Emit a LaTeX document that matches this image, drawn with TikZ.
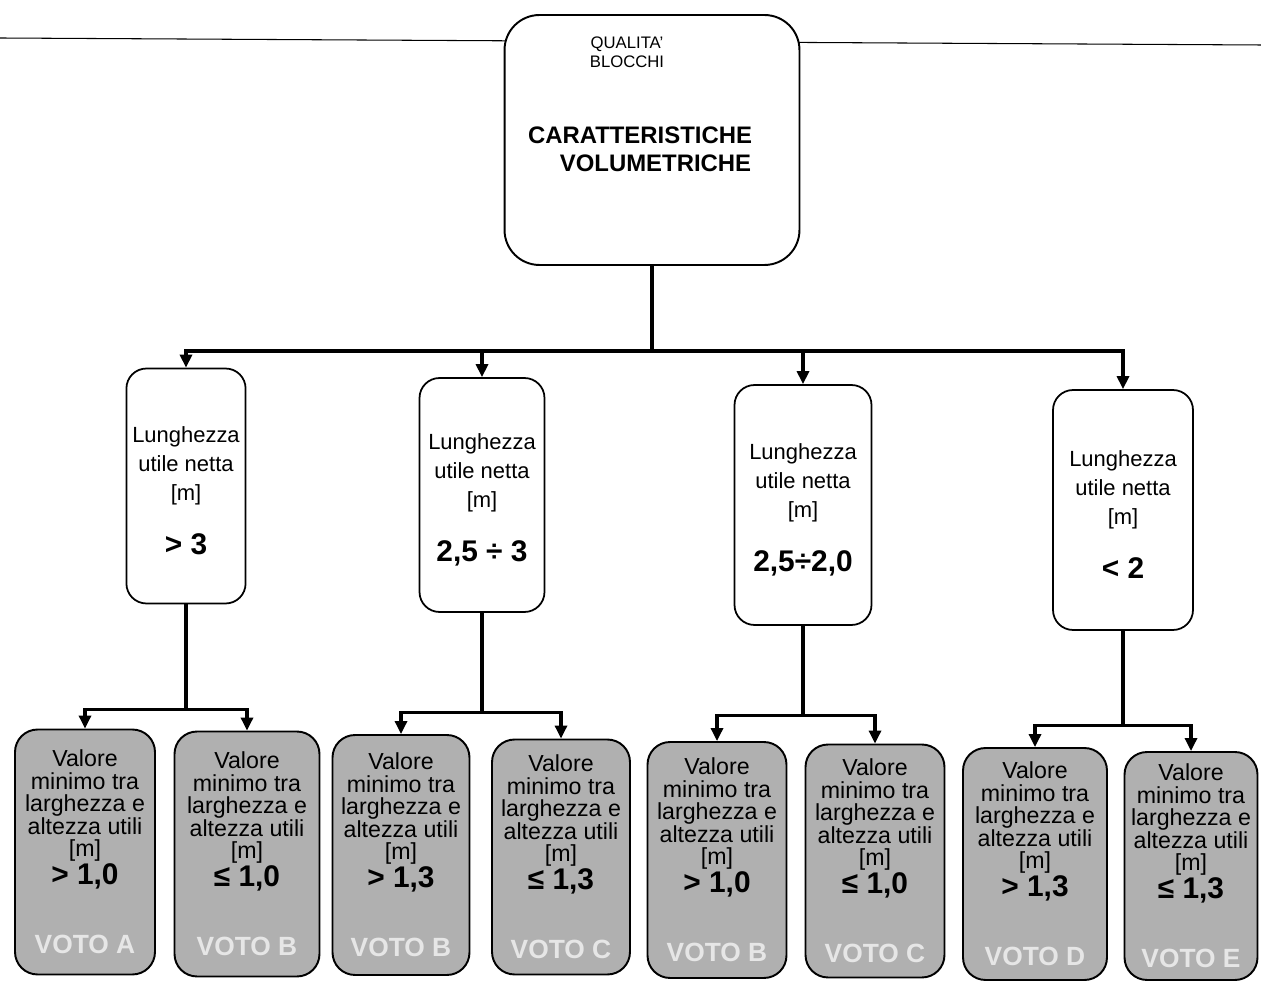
\documentclass[tikz,border=0pt]{standalone}
\usepackage{fontspec}
\setmainfont{Liberation Sans}
\usepackage{tikz}
\usetikzlibrary{arrows.meta,positioning,calc}
\definecolor{stipple}{HTML}{B0B0B0}
\definecolor{votofaint}{HTML}{E6E6E6}

\begin{document}
\begin{tikzpicture}[x=0.02cm, y=-0.02cm,
  topbox/.style={draw, line width=1.1pt, rounded corners=0.7cm, fill=white, minimum width=5.9cm, minimum height=5cm},
  lenbox/.style={draw, line width=1pt, rounded corners=0.4cm, fill=white, align=center, font=\fontsize{12.5}{16.5}\selectfont, minimum height=4.7cm},
  valbox/.style={draw, line width=1.1pt, rounded corners=0.45cm, fill=stipple, align=center, font=\fontsize{13.2}{12.8}\selectfont, minimum height=4.9cm},
  arr/.style={line width=1.8pt, -{Triangle[length=2.6mm, width=2.4mm]}},
]
  \useasboundingbox (0,0) rectangle (1261,982);

  % page rule behind the title box
  \draw[line width=0.6pt] (0,38) -- (1261,45);

  % title
  \node[topbox] (top) at (652,140) {};
  \node[font=\fontsize{9.5}{11}\selectfont, align=center] (toptag) at (627,52) {QUALITA'\\BLOCCHI};
  \node[font=\fontsize{13.6}{16}\selectfont\bfseries, align=center] (toptitle) at (640,149) {CARATTERISTICHE\\\hspace*{1.3em}VOLUMETRICHE};

  % length classes
  \node[lenbox, minimum width=2.26cm] (len1) at (186,486) {\rule{0pt}{5mm}Lunghezza\\utile netta\\{[m]}\\[5mm]{\fontsize{17}{20}\selectfont\bfseries > 3}};
  \node[lenbox, minimum width=2.5cm, minimum height=4.68cm] (len2) at (482,495) {\rule{0pt}{5mm}Lunghezza\\utile netta\\{[m]}\\[5mm]{\fontsize{17}{20}\selectfont\bfseries 2,5 ÷ 3}};
  \node[lenbox, minimum width=2.74cm, minimum height=4.8cm] (len3) at (803,505) {\rule{0pt}{5mm}Lunghezza\\utile netta\\{[m]}\\[5mm]{\fontsize{17}{20}\selectfont\bfseries 2,5÷2,0}};
  \node[lenbox, minimum width=2.8cm, minimum height=4.8cm] (len4) at (1123,510) {\rule{0pt}{5mm}Lunghezza\\utile netta\\{[m]}\\[5mm]{\fontsize{17}{20}\selectfont\bfseries < 2}};

  % section classes and grades
  \node[valbox, minimum width=2.8cm] (sec1) at (85,852) {Valore\\minimo tra\\larghezza e\\altezza utili\\{[m]}\\{\fontsize{17}{20}\selectfont\bfseries > 1,0}\\[9mm]{\color{votofaint}\fontsize{15}{18}\selectfont\bfseries VOTO A}};
  \node[valbox, minimum width=2.9cm] (sec2) at (247,854) {Valore\\minimo tra\\larghezza e\\altezza utili\\{[m]}\\{\fontsize{17}{20}\selectfont\bfseries ≤ 1,0}\\[9mm]{\color{votofaint}\fontsize{15}{18}\selectfont\bfseries VOTO B}};
  \node[valbox, minimum width=2.74cm, minimum height=4.8cm] (sec3) at (401,855) {Valore\\minimo tra\\larghezza e\\altezza utili\\{[m]}\\{\fontsize{17}{20}\selectfont\bfseries > 1,3}\\[9mm]{\color{votofaint}\fontsize{15}{18}\selectfont\bfseries VOTO B}};
  \node[valbox, minimum width=2.76cm, minimum height=4.7cm] (sec4) at (561,857) {Valore\\minimo tra\\larghezza e\\altezza utili\\{[m]}\\{\fontsize{17}{20}\selectfont\bfseries ≤ 1,3}\\[9mm]{\color{votofaint}\fontsize{15}{18}\selectfont\bfseries VOTO C}};
  \node[valbox, minimum width=2.78cm, minimum height=4.72cm] (sec5) at (717,860) {Valore\\minimo tra\\larghezza e\\altezza utili\\{[m]}\\{\fontsize{17}{20}\selectfont\bfseries > 1,0}\\[9mm]{\color{votofaint}\fontsize{15}{18}\selectfont\bfseries VOTO B}};
  \node[valbox, minimum width=2.78cm, minimum height=4.66cm] (sec6) at (875,861) {Valore\\minimo tra\\larghezza e\\altezza utili\\{[m]}\\{\fontsize{17}{20}\selectfont\bfseries ≤ 1,0}\\[9mm]{\color{votofaint}\fontsize{15}{18}\selectfont\bfseries VOTO C}};
  \node[valbox, minimum width=2.88cm, minimum height=4.64cm] (sec7) at (1035,864) {Valore\\minimo tra\\larghezza e\\altezza utili\\{[m]}\\{\fontsize{17}{20}\selectfont\bfseries > 1,3}\\[9mm]{\color{votofaint}\fontsize{15}{18}\selectfont\bfseries VOTO D}};
  \node[valbox, minimum width=2.66cm, minimum height=4.56cm] (sec8) at (1191,866) {Valore\\minimo tra\\larghezza e\\altezza utili\\{[m]}\\{\fontsize{17}{20}\selectfont\bfseries ≤ 1,3}\\[9mm]{\color{votofaint}\fontsize{15}{18}\selectfont\bfseries VOTO E}};

  % title to length classes
  \coordinate (bus) at ($(top.south)+(0,85)$);
  \draw[line width=1.8pt] (top.south) -- (bus);
  \draw[arr] (bus) -| (len1.north);
  \draw[arr] (bus) -| (len2.north);
  \draw[arr] (bus) -| (len3.north);
  \draw[arr] (bus) -| (len4.north);

  % length classes to section classes
  \draw[arr] (len1.south) -- ++(0,105) -| (sec1.north);
  \draw[arr] (len1.south) -- ++(0,105) -| (sec2.north);
  \draw[arr] (len2.south) -- ++(0,100) -| (sec3.north);
  \draw[arr] (len2.south) -- ++(0,100) -| (sec4.north);
  \draw[arr] (len3.south) -- ++(0,90) -| (sec5.north);
  \draw[arr] (len3.south) -- ++(0,90) -| (sec6.north);
  \draw[arr] (len4.south) -- ++(0,95) -| (sec7.north);
  \draw[arr] (len4.south) -- ++(0,95) -| (sec8.north);
\end{tikzpicture}
\end{document}
